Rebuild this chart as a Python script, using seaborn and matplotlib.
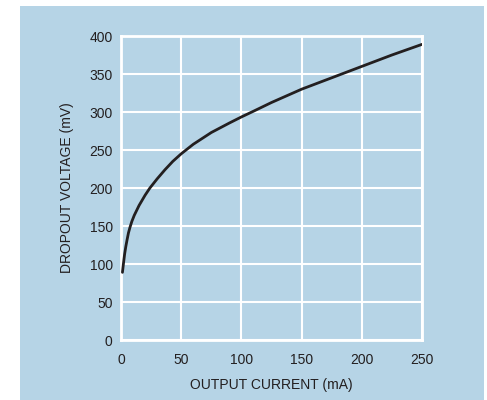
import matplotlib
matplotlib.use("Agg")
import matplotlib.pyplot as plt
import seaborn as sns
import pandas as pd
from matplotlib.patches import Rectangle

current_ma = [1.2, 2, 3, 4, 5, 6.2, 7.5, 9, 11, 15, 20, 24, 30, 36.5, 43, 50, 60, 75, 90, 100, 110, 125, 150, 175, 200, 225, 250]
dropout_mv = [89, 100, 113, 123, 131.5, 141, 148.5, 156, 164, 177, 190.5, 200, 212, 224, 235, 245, 257.5, 273, 285.5, 293.5, 301, 312.5, 330, 345, 360, 375, 389]
x_ticks = [0, 50, 100, 150, 200, 250]
y_ticks = [0, 50, 100, 150, 200, 250, 300, 350, 400]

BLUE = "#b6d4e6"
TEXT = "#231f20"

sns.set_theme(style="white")
plt.rcParams['font.family'] = ['Liberation Sans Narrow', 'Liberation Sans', 'DejaVu Sans']

df = pd.DataFrame({"I": current_ma, "V": dropout_mv})

fig = plt.figure(figsize=(4.87, 4.0), dpi=100, facecolor="white")
fig.patches.append(Rectangle((19.5/487, 0), (484-19.5)/487, 394/400,
                             transform=fig.transFigure, facecolor=BLUE,
                             edgecolor="none", zorder=-10))
ax = fig.add_axes([121/487, 60/400, 301/487, 304/400])
ax.set_zorder(1)
ax.set_facecolor(BLUE)
sns.lineplot(data=df, x="I", y="V", ax=ax, color=TEXT, linewidth=2.0, zorder=5)

ax.set_xlim(0, 250)
ax.set_ylim(0, 400)
ax.set_xticks(x_ticks)
ax.set_yticks(y_ticks)
ax.grid(True, color="white", linewidth=1.5)
ax.set_axisbelow(True)
for s in ax.spines.values():
    s.set_visible(True)
    s.set_color("white")
    s.set_linewidth(2)
ax.tick_params(axis="y", length=0, labelsize=10, colors=TEXT, pad=6)
ax.tick_params(axis="x", length=0, labelsize=10, colors=TEXT, pad=9)
ax.set_xlabel("OUTPUT CURRENT (mA)", fontsize=10, color=TEXT, labelpad=8)
ax.set_ylabel("DROPOUT VOLTAGE (mV)", fontsize=10, color=TEXT, labelpad=11)

fig.savefig("out.png", dpi=100, facecolor="white")
